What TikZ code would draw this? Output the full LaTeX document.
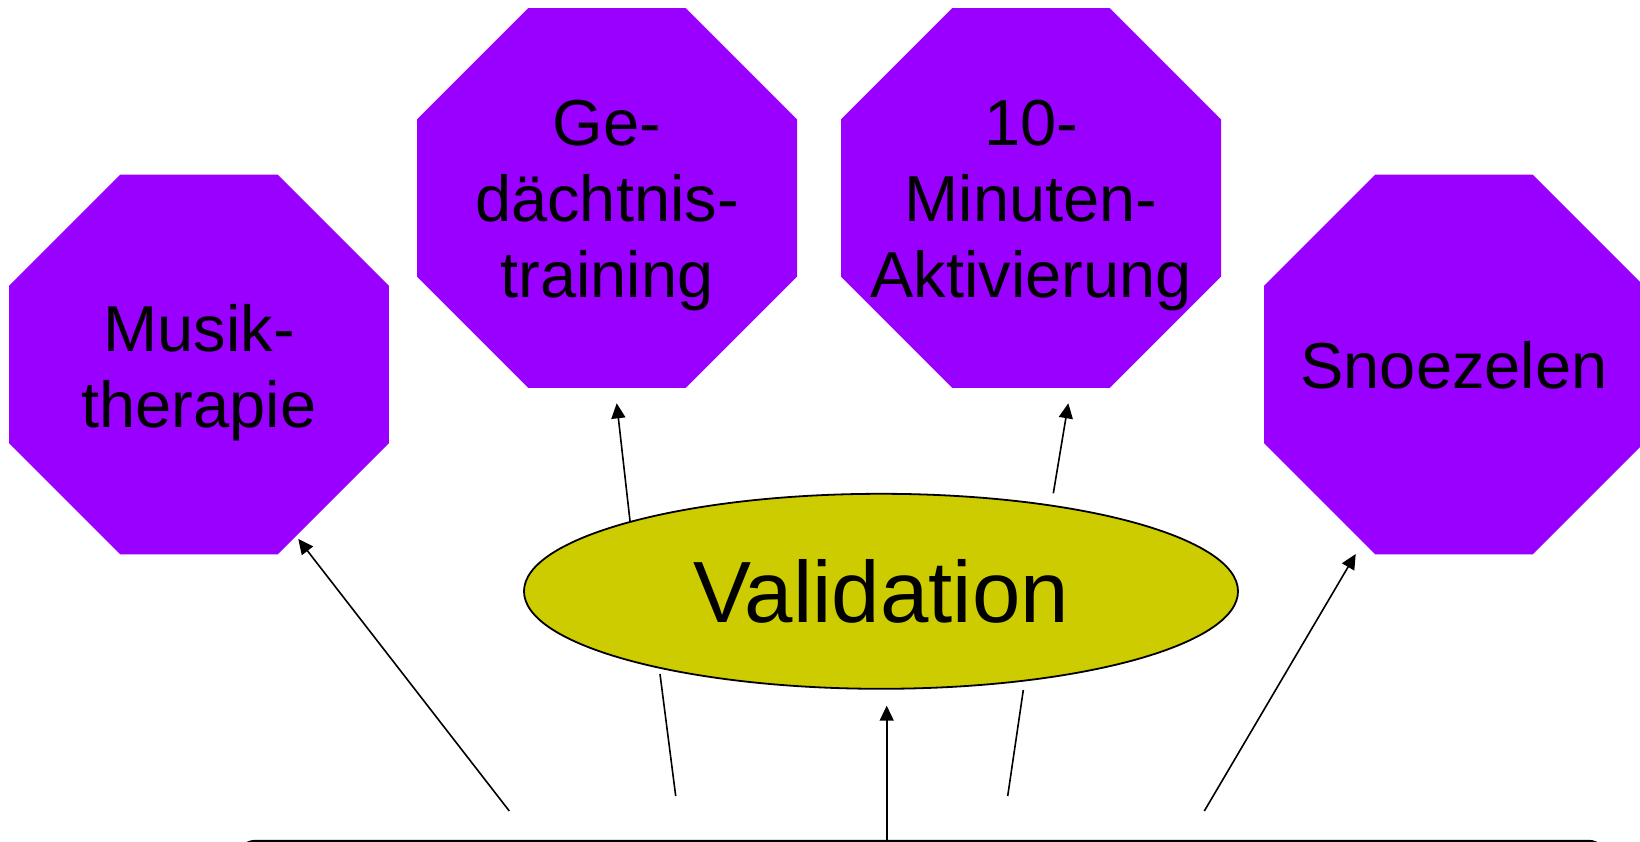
\documentclass[tikz,border=0pt]{standalone}
\usepackage{fontspec}
\setmainfont{Liberation Sans}
\usetikzlibrary{shapes.geometric,arrows.meta,calc}
\definecolor{octpurple}{HTML}{9900FF}
\definecolor{valyellow}{HTML}{CCCC00}
\begin{document}
\begin{tikzpicture}[x=1pt,y=-1pt,
  octa/.style={regular polygon, regular polygon sides=8, fill=octpurple,
    minimum size=411.3pt, inner sep=0pt, outer sep=0pt},
  octtext/.style={anchor=base, inner sep=0pt, text=black,
    font=\fontsize{65}{76}\selectfont},
  conn/.style={line width=1.6pt, draw=black},
  arr/.style={conn, -{Triangle[length=15pt,width=14pt]}},
]
\useasboundingbox (0,0) rectangle (1640,842);

% octagons
\node[octa] (musik) at (199,364.5) {};
\node[octa] (ged)   at (607,198) {};
\node[octa] (minu)  at (1031,198) {};
\node[octa] (snoe)  at (1454,364.5) {};

\node[octtext] (tmusik) at (199,427) {\begin{tabular}[b]{@{}c@{}}Musik-\\therapie\end{tabular}};
\node[octtext] (tged)   at (607,298) {\begin{tabular}[b]{@{}c@{}}Ge-\\dächtnis-\\training\end{tabular}};
\node[octtext] (tminu)  at (1031,298) {\begin{tabular}[b]{@{}c@{}}10-\\Minuten-\\Aktivierung\end{tabular}};
\node[octtext] (tsnoe)  at (1454,388) {Snoezelen};

% bottom box
\node[draw, rounded corners=20pt, line width=2.5pt, minimum width=1372pt,
      minimum height=120pt, inner sep=0pt] (base) at (922,901) {};

% ellipse
\node[ellipse, draw, line width=1.8pt, fill=valyellow, minimum width=714pt,
      minimum height=195pt, inner sep=0pt, font=\fontsize{87}{100}\selectfont]
      (val) at (881,591.3) {Validation};

% connector end points
\coordinate (a1s) at (509.3,811);  \coordinate (a1e) at (298.3,539);
\coordinate (l2s) at (675.7,796);  \coordinate (l2e) at (660,674);
\coordinate (a2s) at (630,521);    \coordinate (a2e) at (616.7,403.3);
\coordinate (a3e) at (886.7,705.7);
\coordinate (l4s) at (1007.7,796); \coordinate (l4e) at (1023.3,690);
\coordinate (a4s) at (1053.3,493.3); \coordinate (a4e) at (1068.3,403.3);
\coordinate (a5s) at (1204.3,811); \coordinate (a5e) at (1355.7,554);

\draw[arr] (a1s) -- (a1e);
\draw[conn] (l2s) -- (l2e);
\draw[arr] (a2s) -- (a2e);
\draw[arr] (base.north -| a3e) -- (a3e);
\draw[conn] (l4s) -- (l4e);
\draw[arr] (a4s) -- (a4e);
\draw[arr] (a5s) -- (a5e);
\end{tikzpicture}
\end{document}
